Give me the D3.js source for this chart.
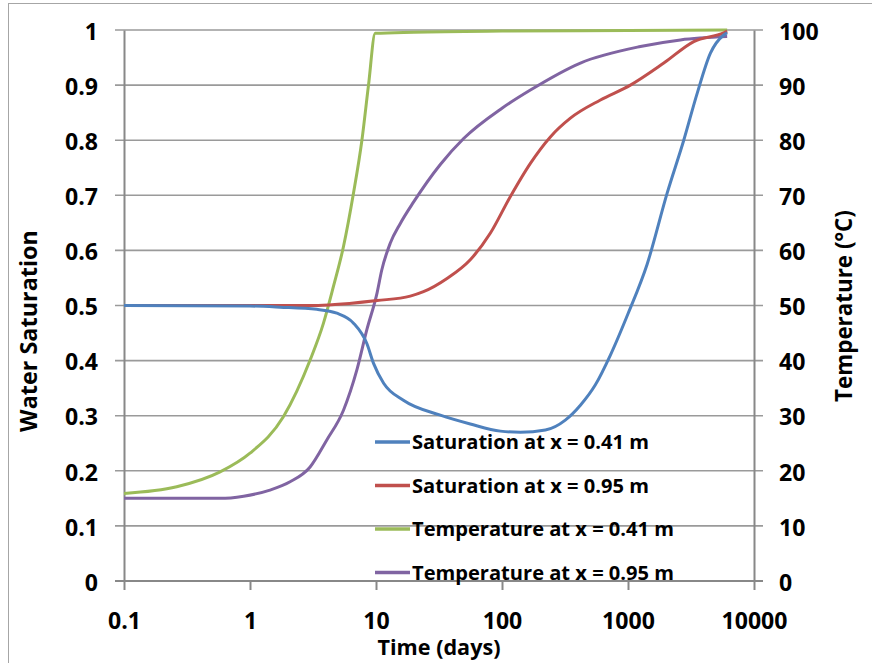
<!DOCTYPE html>
<html><head><meta charset="utf-8">
<script src="https://cdn.jsdelivr.net/npm/d3@7"></script>
<style>html,body{margin:0;padding:0;background:#fff;}svg{display:block;}text{font-family:"Open Sans",Lato,sans-serif;font-weight:bold;fill:#000;}</style>
</head><body>
<svg id="chart" width="872" height="663"></svg>
<script>
// ---- data ----
const xTicks = [0.1, 1, 10, 100, 1000, 10000];
const xTickLabels = ["0.1", "1", "10", "100", "1000", "10000"];
const yTicksLeft = [0, 0.1, 0.2, 0.3, 0.4, 0.5, 0.6, 0.7, 0.8, 0.9, 1];
const yTicksRight = [0, 10, 20, 30, 40, 50, 60, 70, 80, 90, 100];

const satA_t = [0.1, 1, 1.73, 3.39, 4.89, 6.63, 8.46, 9.56, 11.5, 16.5, 32.4, 56, 97, 140, 221, 318, 419, 551, 725, 1000, 1419, 2045, 2770, 3540, 4510, 5757, 6124];
const satA_v = [0.5, 0.499, 0.497, 0.493, 0.486, 0.468, 0.431, 0.395, 0.359, 0.328, 0.301, 0.285, 0.272, 0.270, 0.274, 0.292, 0.319, 0.356, 0.410, 0.485, 0.575, 0.704, 0.800, 0.885, 0.958, 0.991, 0.995];

const satB_t = [0.1, 1, 3, 4.2, 10.2, 18.7, 23.8, 36.6, 56, 80.7, 116, 168, 242, 349, 604, 1045, 1923, 3326, 5757, 6124];
const satB_v = [0.5, 0.5, 0.5, 0.501, 0.509, 0.517, 0.525, 0.549, 0.583, 0.631, 0.697, 0.758, 0.806, 0.840, 0.873, 0.900, 0.940, 0.979, 0.995, 0.998];

const tempA_t = [0.1, 0.262, 0.579, 1, 1.84, 3, 3.83, 4.6, 5.52, 6.63, 7.73, 8.72, 9.86, 20, 100, 1000, 6124];
const tempA_v = [15.9, 17.1, 19.8, 23.2, 29.8, 40.1, 46.8, 53.5, 60.7, 70.4, 80.0, 90.0, 99.4, 99.6, 99.8, 99.9, 100];

const tempB_t = [0.1, 0.58, 0.89, 1.44, 2.08, 3, 4.07, 5.52, 7.05, 8.46, 10.2, 11.1, 12.97, 15.6, 19.9, 32.4, 49.6, 100, 168, 419, 1254, 2608, 6124];
const tempB_v = [15, 15, 15.4, 16.5, 18, 20.7, 25.6, 31, 38.3, 45.6, 52.3, 56.4, 61.3, 64.9, 68.8, 75.6, 80.3, 85.8, 89.1, 94, 97, 98.2, 98.8];

const seriesNames = ["Saturation at x = 0.41 m", "Saturation at x = 0.95 m", "Temperature at x = 0.41 m", "Temperature at x = 0.95 m"];
const seriesColors = ["#4F81BD", "#C0504D", "#9BBB59", "#8064A2"];

// ---- layout ----
const svg = d3.select("#chart");
const L = 124, R = 754, T = 30, B = 581;

// scale a text's font size so that it spans a target width
function fit(sel, target, base) {
  sel.style("font-size", base + "px");
  const w = sel.node().getComputedTextLength();
  return base * target / w;
}

svg.append("rect").attr("x", 8.5).attr("y", 3.5).attr("width", 880).attr("height", 680)
  .attr("fill", "#fff").attr("stroke", "#a6a6a6").attr("stroke-width", 1);

const x = d3.scaleLog().domain([0.1, 10000]).range([L, R]);
const yL = d3.scaleLinear().domain([0, 1]).range([B, T]);
const yR = d3.scaleLinear().domain([0, 100]).range([B, T]);

// gridlines
svg.append("g").selectAll("line").data(yTicksLeft).join("line")
  .attr("x1", L - 9).attr("x2", R + 9)
  .attr("y1", d => yL(d)).attr("y2", d => yL(d))
  .attr("stroke", "#9a9a9a").attr("stroke-width", 1.6);

// tick font size from the widest label
const probe = svg.append("text").text("10000");
const tickFs = Math.min(24, fit(probe, 66, 20));
probe.remove();

// left axis
const gl = svg.append("g").attr("transform", `translate(${L},0)`)
  .call(d3.axisLeft(yL).tickValues(yTicksLeft).tickSize(0).tickPadding(26).tickFormat(d3.format("~g")));
gl.select(".domain").attr("stroke", "#888").attr("stroke-width", 2);
gl.selectAll("text").style("font-size", tickFs + "px").attr("dy", "0.4em");

// right axis
const gr = svg.append("g").attr("transform", `translate(${R},0)`)
  .call(d3.axisRight(yR).tickValues(yTicksRight).tickSize(0).tickPadding(25).tickFormat(d3.format("d")));
gr.select(".domain").attr("stroke", "#888").attr("stroke-width", 2);
gr.selectAll("text").style("font-size", tickFs + "px").attr("dy", "0.4em");

// bottom axis
const gb = svg.append("g").attr("transform", `translate(0,${B})`)
  .call(d3.axisBottom(x).tickValues(xTicks).tickSize(9).tickPadding(29).tickFormat((d, i) => xTickLabels[i]));
gb.select(".domain").attr("stroke", "#888").attr("stroke-width", 2).attr("d", `M${L - 9},0H${R + 9}`);
gb.selectAll(".tick line").attr("stroke", "#888").attr("stroke-width", 2);
gb.selectAll("text").style("font-size", tickFs + "px").attr("dy", "0.45em");

// axis titles
const tX = svg.append("text").attr("x", 439).attr("y", 655).attr("text-anchor", "middle").text("Time (days)");
tX.style("font-size", Math.min(24, fit(tX, 123, 20)) + "px");
const tY = svg.append("text").attr("transform", "translate(29,331) rotate(-90)").attr("dy", "0.36em").attr("text-anchor", "middle").text("Water Saturation");
tY.style("font-size", Math.min(24, fit(tY, 202, 20)) + "px");
const tR = svg.append("text").attr("transform", "translate(844,306) rotate(-90)").attr("dy", "0.36em").attr("text-anchor", "middle").text("Temperature (°C)");
tR.style("font-size", Math.min(24, fit(tR, 192, 20)) + "px");

// lines
const mk = (ts, vs) => ts.map((t, i) => [t, vs[i]]);
const lineL = d3.line().x(d => x(d[0])).y(d => yL(d[1])).curve(d3.curveMonotoneX);
const lineR = d3.line().x(d => x(d[0])).y(d => yR(d[1])).curve(d3.curveMonotoneX);
const plot = svg.append("g");
plot.append("path").attr("d", lineR(mk(tempA_t, tempA_v))).attr("fill", "none").attr("stroke", seriesColors[2]).attr("stroke-width", 3);
plot.append("path").attr("d", lineR(mk(tempB_t, tempB_v))).attr("fill", "none").attr("stroke", seriesColors[3]).attr("stroke-width", 3);
plot.append("path").attr("d", lineL(mk(satB_t, satB_v))).attr("fill", "none").attr("stroke", seriesColors[1]).attr("stroke-width", 3);
plot.append("path").attr("d", lineL(mk(satA_t, satA_v))).attr("fill", "none").attr("stroke", seriesColors[0]).attr("stroke-width", 3);

// legend
const legY = [442, 485.5, 529, 572.5];
const leg = svg.append("g");
const legTexts = [];
seriesNames.forEach((n, i) => {
  leg.append("line").attr("x1", 375).attr("x2", 410).attr("y1", legY[i]).attr("y2", legY[i])
    .attr("stroke", seriesColors[i]).attr("stroke-width", 3.5);
  legTexts.push(leg.append("text").attr("x", 412).attr("y", legY[i]).attr("dy", "0.36em").text(n));
});
const legFs = Math.min(22, fit(legTexts[0], 237, 20));
legTexts.forEach(t => t.style("font-size", legFs + "px"));
</script>
</body></html>
